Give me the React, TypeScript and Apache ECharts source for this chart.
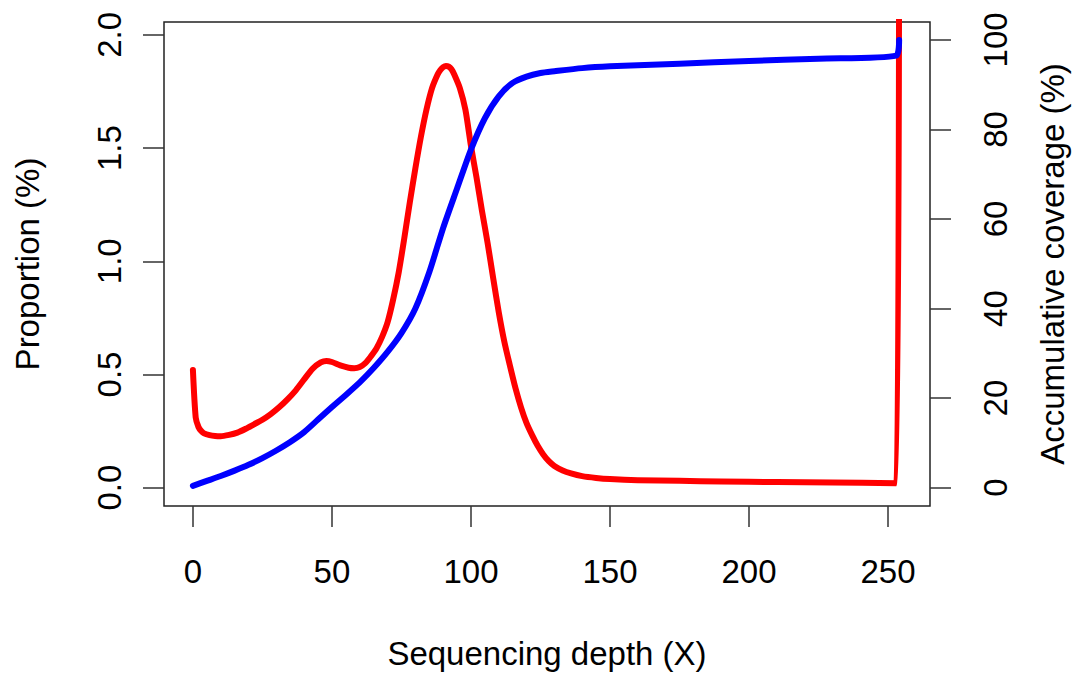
import React, { useEffect, useRef } from "react";
import * as echarts from "echarts";

// Proportion curve (left axis, %)
const redDepth = [0, 1, 2, 3, 4, 6, 8, 10, 13, 16, 19, 22, 25, 28, 31, 34, 37, 40, 43, 46, 48, 50, 53, 56, 58, 60, 62, 64, 66, 68, 70, 72, 74, 76, 78, 80, 82, 84, 86, 88, 89, 90, 91, 92, 93, 94, 96, 98, 100, 102, 104, 106, 108, 110, 112, 114, 116, 118, 120, 122, 124, 126, 128, 130, 133, 136, 140, 145, 150, 160, 175, 190, 210, 230, 253, 254];
const redProportion = [0.52, 0.31, 0.268, 0.25, 0.24, 0.232, 0.228, 0.227, 0.233, 0.243, 0.26, 0.28, 0.3, 0.325, 0.355, 0.39, 0.43, 0.478, 0.525, 0.553, 0.56, 0.555, 0.54, 0.53, 0.528, 0.533, 0.55, 0.58, 0.615, 0.665, 0.73, 0.83, 0.95, 1.1, 1.26, 1.41, 1.55, 1.67, 1.765, 1.825, 1.845, 1.858, 1.863, 1.86, 1.848, 1.825, 1.765, 1.67, 1.51, 1.37, 1.22, 1.08, 0.925, 0.775, 0.645, 0.54, 0.44, 0.355, 0.285, 0.232, 0.185, 0.147, 0.117, 0.096, 0.076, 0.063, 0.051, 0.043, 0.038, 0.033, 0.03, 0.027, 0.025, 0.023, 0.02, 2.9];

// Accumulative coverage curve (right axis, %)
const blueDepth = [0, 5, 10, 15, 20, 25, 30, 35, 40, 45, 50, 55, 60, 65, 70, 75, 80, 85, 90, 95, 100, 105, 110, 115, 120, 125, 130, 140, 150, 175, 200, 225, 253, 254];
const blueCoverage = [0.4, 1.5, 2.6, 3.8, 5.1, 6.6, 8.3, 10.2, 12.4, 15.2, 18.0, 20.7, 23.5, 26.7, 30.3, 34.5, 40.0, 48.1, 58.0, 66.8, 75.5, 82.5, 87.4, 90.4, 91.8, 92.6, 93.0, 93.7, 94.1, 94.7, 95.3, 95.8, 96.5, 100];

const xTicks = [0, 50, 100, 150, 200, 250];
const leftTicks = [0, 0.5, 1.0, 1.5, 2.0];
const rightTicks = [0, 20, 40, 60, 80, 100];

const FONT = "Liberation Sans";
const FS = 33;

export default function App() {
  const ref = useRef<HTMLDivElement>(null);
  useEffect(() => {
    if (!ref.current) return;
    const chart = echarts.init(ref.current, null, { renderer: "svg" });
    const textStyle = { fontFamily: FONT, fontSize: FS, color: "#000" };
    const tickStyle = { show: true, length: 21, inside: false, lineStyle: { color: "#333", width: 1.5 } };
    chart.setOption({
      animation: false,
      backgroundColor: "#fff",
      grid: {
        left: 164,
        top: 22,
        width: 768,
        height: 485,
        show: true,
        borderColor: "#222",
        borderWidth: 1.5,
        backgroundColor: "transparent",
        containLabel: false,
      },
      xAxis: {
        type: "value",
        min: -10.4,
        max: 265.1,
        name: "Sequencing depth (X)",
        nameLocation: "middle",
        nameGap: 131,
        nameTextStyle: textStyle,
        axisLine: { show: false, onZero: false },
        splitLine: { show: false },
        axisTick: { ...tickStyle, customValues: xTicks },
        axisLabel: { ...textStyle, margin: 49, customValues: xTicks, formatter: (v: number) => String(v) },
      },
      yAxis: [
        {
          type: "value",
          position: "left",
          min: -0.081,
          max: 2.057,
          name: "Proportion (%)",
          nameLocation: "middle",
          nameRotate: 90,
          nameGap: 120,
          nameTextStyle: textStyle,
          axisLine: { show: false, onZero: false },
          splitLine: { show: false },
          axisTick: { ...tickStyle, customValues: leftTicks },
          axisLabel: { ...textStyle, rotate: 90, margin: 38, customValues: leftTicks, formatter: (v: number) => v.toFixed(1) },
        },
        {
          type: "value",
          position: "right",
          min: -4.1,
          max: 104.0,
          name: "Accumulative coverage (%)",
          nameLocation: "middle",
          nameRotate: 90,
          nameGap: 106,
          nameTextStyle: textStyle,
          axisLine: { show: false, onZero: false },
          splitLine: { show: false },
          axisTick: { ...tickStyle, customValues: rightTicks },
          axisLabel: { ...textStyle, rotate: 90, margin: 49, customValues: rightTicks, formatter: (v: number) => String(v) },
        },
      ],
      series: [
        {
          type: "line",
          yAxisIndex: 0,
          data: redDepth.map((d, i) => [d, redProportion[i]]),
          showSymbol: false,
          smooth: 0.25,
          clip: true,
          lineStyle: { color: "#ff0000", width: 6, cap: "round", join: "round" },
        },
        {
          type: "line",
          yAxisIndex: 1,
          data: blueDepth.map((d, i) => [d, blueCoverage[i]]),
          showSymbol: false,
          smooth: 0.25,
          clip: true,
          lineStyle: { color: "#0000ff", width: 6, cap: "round", join: "round" },
        },
      ],
    });
    return () => chart.dispose();
  }, []);
  return <div ref={ref} style={{ position: "absolute", left: 0, top: 0, width: 1077, height: 675, background: "#fff" }} />;
}
